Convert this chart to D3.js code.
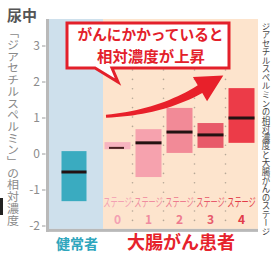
<!DOCTYPE html>
<html><head><meta charset="utf-8">
<script src="https://cdn.jsdelivr.net/npm/d3@7"></script>
<style>
html,body{margin:0;padding:0;background:#fff;}
svg{display:block;}
text{font-family:"Noto Sans CJK JP","Noto Sans",sans-serif;}
</style></head>
<body>
<script>
// ---- data ----
const groups = ["健常者", "ステージ0", "ステージ1", "ステージ2", "ステージ3", "ステージ4"];
const stageNums = ["0", "1", "2", "3", "4"];
const boxLow =    [-1.31, 0.16, -0.64, 0.03, 0.17, 0.31];
const boxMedian = [-0.50, 0.17,  0.31, 0.61, 0.53, 1.00];
const boxHigh =   [ 0.08, 0.33,  0.69, 1.28, 0.86, 1.83];
const yTicks = [3, 2, 1, 0, -1, -2];
const boxColors = ["#3aabc0", "#f7b4c0", "#f6a2ae", "#f28a97", "#e85a69", "#ec3b48"];
const stageLabelColors = ["#f3a0b3", "#f08ca0", "#ee7b8f", "#e75a6c", "#e23a48"];

const W = 273, H = 253;
const svg = d3.select("body").append("svg").attr("width", W).attr("height", H);

const y = d3.scaleLinear().domain([-2, 3]).range([226, 46]);
const xH = d3.scaleBand().domain([groups[0]]).range([49, 103]);
const xS = d3.scaleBand().domain(groups.slice(1)).range([103, 258]);
const cx = (i) => i === 0 ? xH(groups[0]) + xH.bandwidth() / 2 - 2 : xS(groups[i]) + xS.bandwidth() / 2 - 1;
const panelTop = y(3.75), panelBottom = y(-2.08);

// panels
svg.append("rect").attr("x", 49).attr("y", panelTop).attr("width", 54).attr("height", panelBottom - panelTop).attr("fill", "#cee0ec");
svg.append("rect").attr("x", 103).attr("y", panelTop).attr("width", 155).attr("height", panelBottom - panelTop).attr("fill", "#fde4cd");
// axis strips
svg.append("rect").attr("x", 46).attr("y", panelTop).attr("width", 3).attr("height", panelBottom - panelTop + 3).attr("fill", "#b9b9b9");
svg.append("rect").attr("x", 46).attr("y", panelBottom).attr("width", 212).attr("height", 3).attr("fill", "#b9b9b9");

// dotted separators
groups.slice(2).forEach(g => {
  const xx = xS(g) - 1.5;
  for (let yy = 23; yy < panelBottom - 2; yy += 9.4) {
    svg.append("circle").attr("cx", xx).attr("cy", yy).attr("r", 0.8).attr("fill", "#b5a797");
  }
});

// y axis ticks
const ya = svg.append("g");
yTicks.forEach(t => {
  ya.append("text").attr("x", 40).attr("y", y(t)).attr("dy", "0.36em").attr("text-anchor", "end")
    .attr("font-size", 12).attr("fill", "#8c8c8c").attr("font-family", "'Noto Sans',sans-serif").text(t);
  ya.append("line").attr("x1", 42).attr("x2", 45.5).attr("y1", y(t)).attr("y2", y(t)).attr("stroke", "#9a9a9a").attr("stroke-width", 1);
});

// boxes
groups.forEach((g, i) => {
  const w = i === 0 ? 25 : 26;
  const c = cx(i);
  svg.append("rect").attr("x", c - w / 2).attr("y", y(boxHigh[i])).attr("width", w)
    .attr("height", y(boxLow[i]) - y(boxHigh[i]) + (i === 1 ? 1 : 0)).attr("fill", boxColors[i]);
  const mw = i === 1 ? 15 : w;
  svg.append("line").attr("x1", c - mw / 2 + (i === 1 ? -1 : 0)).attr("x2", c + mw / 2 + (i === 1 ? -1 : 0))
    .attr("y1", y(boxMedian[i])).attr("y2", y(boxMedian[i]))
    .attr("stroke", i === 1 ? "#4a2020" : "#231212").attr("stroke-width", i === 1 ? 2 : 3);
});

// stage labels (horizontally condensed)
stageNums.forEach((s, k) => {
  const c = cx(k + 1);
  svg.append("text").attr("transform", `translate(${c},203) scale(0.6,1)`).attr("dy", "0.36em")
    .attr("text-anchor", "middle").attr("font-size", 12)
    .attr("fill", stageLabelColors[k]).text("ステージ");
  svg.append("text").attr("x", c).attr("y", 220).attr("dy", "0.36em").attr("font-size", 12)
    .attr("text-anchor", "middle").attr("font-family", "'Noto Sans',sans-serif").attr("font-weight", "bold")
    .attr("fill", stageLabelColors[k]).text(s);
});

// group labels
svg.append("text").attr("x", 77).attr("y", 244).attr("dy", "0.36em").attr("text-anchor", "middle")
  .attr("font-size", 14).attr("font-weight", "bold").attr("fill", "#2fa6bd").text("健常者");
svg.append("text").attr("x", 181).attr("y", 242.5).attr("dy", "0.36em").attr("text-anchor", "middle")
  .attr("font-size", 18).attr("font-weight", "bold").attr("fill", "#e6222c").text("大腸がん患者");

// top-left title
svg.append("text").attr("x", 7).attr("y", 16).attr("dy", "0.36em").attr("font-size", 15)
  .attr("font-weight", "bold").attr("fill", "#555").text("尿中");

// y axis title (vertical)
svg.append("text").attr("x", 13).attr("y", 27).attr("font-size", 12).attr("fill", "#8a8a8a")
  .style("writing-mode", "vertical-rl").attr("textLength", 199).attr("lengthAdjust", "spacingAndGlyphs")
  .text("「ジアセチルスペルミン」の相対濃度");

// right caption (vertical)
svg.append("text").attr("x", 266).attr("y", 22).attr("font-size", 8.5).attr("fill", "#444")
  .style("writing-mode", "vertical-rl").attr("textLength", 214).attr("lengthAdjust", "spacingAndGlyphs")
  .text("ジアセチルスペルミンの相対濃度と大腸がんのステージ");

// left edge artifact
svg.append("rect").attr("x", 0).attr("y", 198).attr("width", 3).attr("height", 17).attr("fill", "#222");

// arrow (annotation)
const p0 = [xS(groups[1]) + 3, y(1.05)];
const pc = [160, y(1.15)];
const p1 = [200, y(1.8)];
function qb(t) {
  const a = (1 - t) * (1 - t), b = 2 * (1 - t) * t, c = t * t;
  return [a * p0[0] + b * pc[0] + c * p1[0], a * p0[1] + b * pc[1] + c * p1[1]];
}
function qd(t) {
  const dx = 2 * (1 - t) * (pc[0] - p0[0]) + 2 * t * (p1[0] - pc[0]);
  const dy = 2 * (1 - t) * (pc[1] - p0[1]) + 2 * t * (p1[1] - pc[1]);
  const L = Math.hypot(dx, dy); return [dx / L, dy / L];
}
const upper = [], lower = [];
for (let t = 0; t <= 1.0001; t += 0.05) {
  const p = qb(t), d = qd(t), n = [-d[1], d[0]], hw = 1.5 + 3 * t;
  upper.push([p[0] + n[0] * hw, p[1] + n[1] * hw]);
  lower.push([p[0] - n[0] * hw, p[1] - n[1] * hw]);
}
const dEnd = qd(1), nEnd = [-dEnd[1], dEnd[0]];
const tip = [p1[0] + dEnd[0] * 27, p1[1] + dEnd[1] * 27];
const b1 = [p1[0] + nEnd[0] * 14, p1[1] + nEnd[1] * 14];
const b2 = [p1[0] - nEnd[0] * 14, p1[1] - nEnd[1] * 14];
const pts = upper.concat([b1, tip, b2]).concat(lower.reverse());
svg.append("path").attr("d", d3.line()(pts) + "Z").attr("fill", "#e8202a");

// speech bubble
const bub = svg.append("g");
bub.append("path").attr("d", "M67,23 H229 V68 H112 L118,82 L95,68 H67 Z")
  .attr("fill", "#fff").attr("stroke", "#e3202a").attr("stroke-width", 3).attr("stroke-linejoin", "miter");
bub.append("text").attr("x", 150.5).attr("y", 35).attr("dy", "0.36em").attr("text-anchor", "middle")
  .attr("font-size", 15).attr("font-weight", "bold").attr("fill", "#e3202a")
  .attr("textLength", 146).attr("lengthAdjust", "spacingAndGlyphs").text("がんにかかっていると");
bub.append("text").attr("x", 151).attr("y", 56.5).attr("dy", "0.36em").attr("text-anchor", "middle")
  .attr("font-size", 15).attr("font-weight", "bold").attr("fill", "#e3202a")
  .attr("textLength", 108).attr("lengthAdjust", "spacingAndGlyphs").text("相対濃度が上昇");
</script>
</body></html>
